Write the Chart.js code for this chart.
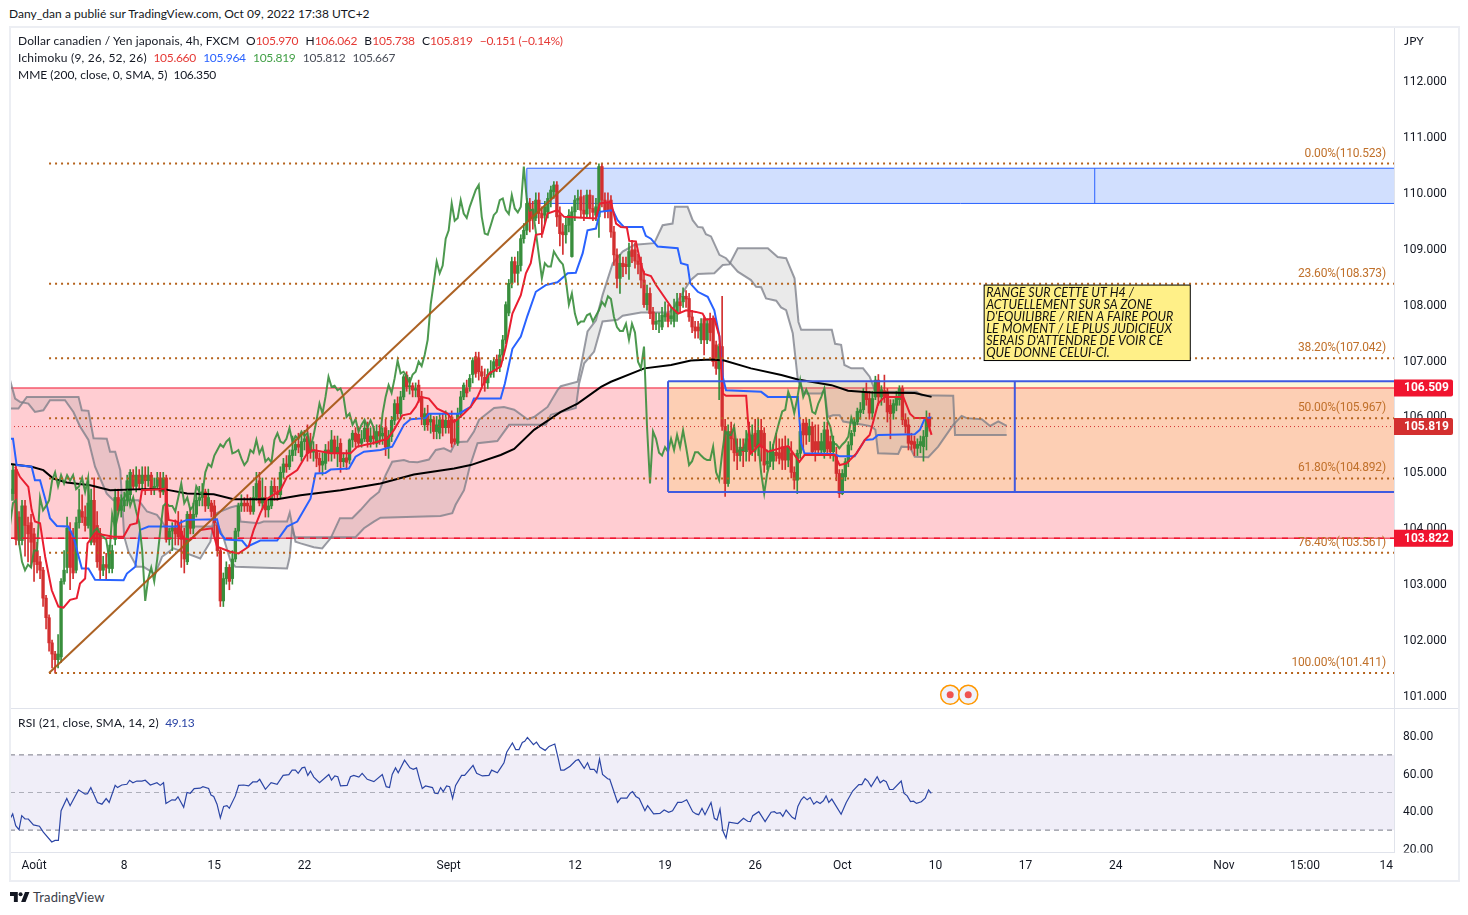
<!DOCTYPE html>
<html>
<head>
<meta charset="utf-8">
<title>CADJPY 4h</title>
<script src="https://cdn.jsdelivr.net/npm/chart.js@4/dist/chart.umd.js"></script>
<style>
  html, body { margin: 0; padding: 0; background: #fff; }
  body { width: 1468px; height: 915px; position: relative; overflow: hidden; font-family: Lato, Roboto, sans-serif; font-size: 12px; color: #131722; }
  canvas { position: absolute; }
  .frame { position: absolute; left: 9px; top: 26px; width: 1447px; height: 852px; border: 2px solid #eceef3; pointer-events: none; }
  .txt { position: absolute; white-space: nowrap; line-height: 14px; letter-spacing: 0.12px; }
  .txt span { margin-right: 4px; letter-spacing: -0.3px; }
  .up { color: #e53935; }
  .blue { color: #2962ff; }
  .green { color: #43a047; }
  .navy { color: #2b45a5; }
  .gray { color: #4a4e59; }
</style>
</head>
<body>
<canvas id="mainChart" width="1458" height="681" style="left:0;top:27px"></canvas>
<canvas id="rsiChart" width="1458" height="172" style="left:0;top:708px"></canvas>
<div class="frame"></div>
<div class="txt" style="left:9px;top:7px;letter-spacing:0.03px">Dany_dan a publié sur TradingView.com, Oct 09, 2022 17:38 UTC+2</div>
<div class="txt" style="left:18px;top:34px">Dollar canadien / Yen japonais, 4h, FXCM&nbsp; O<span class="up">105.970</span> H<span class="up">106.062</span> B<span class="up">105.738</span> C<span class="up">105.819</span> <span class="up">−0.151 (−0.14%)</span></div>
<div class="txt" style="left:18px;top:51px;letter-spacing:0.22px">Ichimoku (9, 26, 52, 26)&nbsp; <span class="up">105.660</span> <span class="blue">105.964</span> <span class="green">105.819</span> <span class="gray">105.812</span> <span class="gray">105.667</span></div>
<div class="txt" style="left:18px;top:68px;letter-spacing:0">MME (200, close, 0, SMA, 5)&nbsp; <span>106.350</span></div>
<div class="txt" style="left:18px;top:716px">RSI (21, close, SMA, 14, 2)&nbsp; <span class="navy">49.13</span></div>
<div class="txt" style="left:1404px;top:34px">JPY</div>
<svg style="position:absolute;left:10px;top:892px" width="20" height="10" viewBox="0 0 36 18"><path d="M14 18H7V7H0V0h14v18Zm14 0h-8L27 0h8l-7 18Z" fill="#131722"/><circle cx="19" cy="4" r="3.6" fill="#131722"/></svg>
<div class="txt" style="left:33px;top:890px;font-size:13px;color:#3a3e49">TradingView</div>
<script>
// candles, one entry per 4h bar
const barOpen = [
  104.5,104.62,105.05,104.2,103.78,104.4,104.05,104.1,103.9,103.6,
  103.4,103.25,102.75,102.4,101.95,101.75,101.65,101.7,103.05,103.3,
  103.95,103.8,103.25,104.1,104.3,104.2,104.05,103.75,104.5,104.05,
  103.9,103.25,103.35,103.28,103.28,103.8,104.55,104.32,104.4,104.5,
  104.6,104.95,104.75,104.95,104.8,104.95,104.85,104.95,104.7,104.75,
  104.9,104.65,104.9,103.8,103.95,104,104.1,103.95,103.8,103.4,
  104.25,104,104.25,104.5,104.55,104.65,104.4,104.45,104.4,104.05,
  103.6,102.7,103.1,103.3,103.1,103.45,103.95,104.4,104.45,104.45,
  104.4,104.3,104.55,104.85,104.45,104.55,104.33,104.4,104.75,104.65,
  104.6,105,105.15,105.1,105.3,105.4,105.5,105.28,105.55,105.64,
  105.55,105.36,105.37,105.25,105.13,105.16,105.4,105.34,105.58,105.34,
  105.52,105.19,105.26,105.22,105.58,105.7,105.68,105.52,105.6,105.79,
  105.55,105.65,105.52,105.73,105.65,105.8,105.45,105.64,105.93,106.23,
  106.05,106.35,106.74,106.53,106.55,106.47,106.56,106.35,105.85,106.05,
  105.9,105.94,105.73,105.7,105.94,105.8,105.93,105.99,105.6,105.52,
  106.05,106.35,106.5,106.53,106.75,107.07,107.05,106.8,106.7,106.6,
  106.75,106.8,107.02,106.9,107.1,107.37,107.85,108.38,108.77,108.56,
  108.7,109.18,109.33,109.81,109.7,109.55,109.87,109.63,109.6,109.66,
  109.9,110.02,110.14,109.6,109.3,109.25,109.42,108.86,109.66,109.87,
  109.93,109.69,109.62,109.96,109.72,109.6,109.57,110.47,109.87,109.8,
  109.87,109.3,108.89,108.47,108.74,108.72,108.68,108.98,108.98,108.78,
  108.74,108.44,108,108.2,107.87,107.65,107.7,107.6,107.78,107.84,
  107.75,107.7,107.84,108.05,108.05,108.15,108.11,107.78,107.6,107.6,
  107.37,107.75,107.37,107.75,107.75,107.28,106.85,107.25,105.82,104.8,
  105.73,105.6,105.4,105.3,105.45,105.37,105.6,105.4,105.7,105.45,
  105.75,105.7,105.15,105.2,105.2,105.36,105.35,105.46,105.46,105.22,
  105.34,105,104.86,105.34,105.88,105.88,105.67,105.82,105.55,105.55,
  105.4,105.37,105.76,105.55,105.37,105.31,104.98,104.62,104.92,105.19,
  105.49,105.73,105.9,106.07,106.12,106.42,106.32,106.06,106.35,106.65,
  106.35,106.46,106.44,106.2,106.06,106.2,106.3,106.5,105.94,105.85,
  105.56,105.55,105.43,105.48,105.46,105.64,105.97
];
const barHigh = [
  104.9,105.15,105.15,104.3,104.5,104.5,104.2,104.25,104,103.75,
  103.5,103.3,102.8,102.45,102,101.8,102.1,103.1,103.6,104.2,
  104.1,104,104.2,104.7,104.6,104.4,104.85,104.7,104.9,104.3,
  104,103.5,103.55,103.7,103.7,104.7,104.7,104.6,104.65,104.95,
  105.05,105.05,105.1,105.05,105.1,105.1,105.1,105,104.9,105,
  105,105,104.95,104,104.1,104.15,104.3,104.15,104,104.3,
  104.35,104.45,104.6,104.75,104.8,104.7,104.7,104.5,104.5,104.1,
  103.65,103.2,103.4,103.35,103.6,104,104.45,104.6,104.55,104.6,
  104.55,104.75,105,105,104.9,104.75,104.5,104.85,104.9,104.75,
  105.1,105.25,105.3,105.4,105.65,105.6,105.7,105.7,105.75,105.85,
  105.7,105.55,105.5,105.35,105.35,105.5,105.55,105.75,105.65,105.65,
  105.6,105.35,105.4,105.6,105.75,105.8,105.8,105.75,105.9,105.9,
  105.8,105.8,105.85,105.85,105.8,105.95,105.75,106,106.3,106.35,
  106.45,106.75,106.8,106.7,106.6,106.6,106.65,106.45,106.15,106.2,
  106.05,106,106,106.05,106.05,106.1,106,106.1,105.95,106.15,
  106.45,106.6,106.65,106.75,107.05,107.15,107.15,106.9,106.85,106.85,
  107,107.05,107.1,107.2,107.45,108.05,108.45,108.85,108.85,108.95,
  109.25,109.45,109.9,109.9,109.85,110,110,109.75,109.85,110,
  110.12,110.2,110.2,109.75,109.45,109.55,109.7,109.75,109.95,110.05,
  110.05,109.95,110.05,110.05,109.95,109.9,110.52,110.52,110,110,
  109.95,109.4,109,108.9,108.85,108.85,109.1,109.15,109.1,108.9,
  108.85,108.6,108.35,108.3,107.95,107.85,107.85,107.95,108.05,108,
  107.95,108.1,108.2,108.2,108.3,108.25,108.2,107.9,107.7,107.7,
  107.75,107.8,107.75,107.85,107.8,107.35,107.3,108.15,105.95,105.85,
  105.9,105.85,105.6,105.6,105.6,105.75,105.9,105.85,105.95,105.95,
  105.95,105.8,105.4,105.55,105.5,105.7,105.6,105.6,105.65,105.6,
  105.55,105.1,105.4,105.85,105.95,105.95,105.95,105.9,105.85,105.85,
  105.7,105.9,105.9,105.65,105.65,105.45,105.05,105.05,105.25,105.55,
  105.75,105.95,106.15,106.25,106.5,106.6,106.45,106.45,106.72,106.75,
  106.55,106.74,106.5,106.3,106.3,106.45,106.55,106.55,106.05,105.95,
  105.7,105.65,105.6,105.65,105.75,106.1,106.06
];
const barLow = [
  104.4,104.5,103.7,103.7,103.7,103.5,103.4,103.3,103.05,103.2,
  103.1,102.6,102.2,101.8,101.5,101.41,101.5,101.6,103,103.2,
  102.9,103.1,103.2,104,104.1,103.95,104,103.7,103.7,103.3,
  103.1,103.15,103.1,103.2,103.2,103.7,104.25,104.2,104.3,104.4,
  104.5,104.7,104.65,104.7,104.7,104.6,104.75,104.6,104.6,104.7,
  104.55,104.6,103.75,103.7,103.6,103.7,103.7,103.3,103.2,103.35,
  103.9,103.9,104.2,104.4,104.4,104.3,104.35,104.2,103.85,103.5,
  102.6,102.6,103,102.9,103,103.4,103.85,104.3,104.3,104.3,
  104.25,104.25,104.5,104.4,104.35,104.2,104.2,104.35,104.5,104.5,
  104.55,104.9,105,105.05,105.2,105.3,105.35,105.2,105.4,105.2,
  105.25,105.2,105.1,105,104.95,105.05,105.2,105.2,105.25,105.1,
  105,105.1,105.05,105.15,105.45,105.45,105.45,105.45,105.55,105.45,
  105.45,105.5,105.45,105.5,105.5,105.3,105.25,105.55,105.85,105.95,
  105.95,106.3,106.45,106.4,106.35,106.35,106.25,105.85,105.75,105.75,
  105.7,105.6,105.6,105.6,105.65,105.7,105.7,105.45,105.5,105.48,
  105.98,106.3,106.35,106.45,106.6,106.7,106.65,106.55,106.45,106.5,
  106.7,106.7,106.8,106.8,107,107.3,107.8,108.3,108.4,108.35,
  108.6,109.1,109.25,109.3,109.35,109.5,109.45,109.2,109.45,109.55,
  109.75,109.9,109.4,109.05,108.9,109.1,109.3,108.85,109.5,109.7,
  109.55,109.5,109.55,109.55,109.5,109.5,109.2,109.75,109.55,109.55,
  109.2,108.7,108.3,108.2,108.5,108.55,108.45,108.75,108.65,108.55,
  108.3,107.95,107.9,107.75,107.55,107.55,107.5,107.55,107.7,107.6,
  107.65,107.6,107.7,107.85,107.95,107.95,107.7,107.5,107.4,107.4,
  107.3,107.1,107.3,107.35,106.9,106.75,106.3,105.75,104.57,104.75,
  105.4,105.2,105.05,105.2,105.1,105.2,105.2,105.3,105.2,105.3,
  105.2,105,105.05,105.1,105.05,105.2,105.15,105.05,105.05,105.1,
  104.9,104.7,104.62,105.25,105.4,105.5,105.55,105.3,105.2,105.3,
  105.3,105.25,105.3,105.25,105.2,104.85,104.55,104.6,104.85,105.1,
  105.4,105.65,105.85,105.95,106.05,106.2,105.95,105.95,106.3,106.2,
  106.2,106.25,105.9,105.6,105.95,106.1,106.2,105.85,105.7,105.4,
  105.4,105.3,105.3,105.35,105.2,105.4,105.74
];
const barClose = [
  104.7,105.04,103.8,103.78,104.4,104.05,103.9,103.75,103.4,103.35,
  103.25,102.75,102.4,101.95,101.75,101.65,101.75,103.05,103.25,104,
  103.3,103.2,104.1,104.33,104.2,104.05,104.45,104.5,103.75,103.4,
  103.25,103.35,103.3,103.6,103.6,104.55,104.32,104.4,104.5,104.85,
  105,104.75,104.95,104.8,104.95,104.85,104.95,104.7,104.75,104.9,
  104.65,104.9,103.8,103.95,104,103.9,103.85,103.8,103.45,104.25,
  104,104.25,104.5,104.55,104.65,104.4,104.55,104.3,104.1,103.6,
  102.7,103.1,103.3,103.05,103.45,103.95,104.4,104.45,104.4,104.4,
  104.3,104.55,104.8,104.45,104.55,104.33,104.4,104.75,104.65,104.6,
  105,105.15,105.1,105.3,105.4,105.5,105.45,105.55,105.6,105.34,
  105.36,105.4,105.25,105.13,105.2,105.4,105.35,105.58,105.34,105.45,
  105.19,105.25,105.18,105.58,105.7,105.55,105.52,105.6,105.79,105.55,
  105.65,105.6,105.73,105.65,105.7,105.45,105.65,105.93,106.23,106.05,
  106.35,106.71,106.53,106.55,106.47,106.5,106.35,105.99,106.05,105.85,
  105.95,105.73,105.85,105.94,105.8,105.93,105.8,105.52,105.55,106.05,
  106.35,106.56,106.42,106.68,107,106.77,106.8,106.72,106.6,106.75,
  106.8,106.98,106.9,107.1,107.37,108,108.38,108.77,108.56,108.7,
  109.18,109.33,109.81,109.5,109.55,109.87,109.63,109.55,109.75,109.9,
  110.05,110.14,109.57,109.27,109.25,109.42,109.6,109.66,109.87,109.9,
  109.69,109.62,109.96,109.72,109.65,109.75,110.47,109.87,109.68,109.7,
  109.3,108.89,108.47,108.74,108.68,108.68,108.95,108.86,108.78,108.72,
  108.44,108,108.2,107.84,107.65,107.7,107.7,107.81,107.84,107.7,
  107.8,107.9,108.05,107.98,108.15,108.1,107.78,107.6,107.53,107.53,
  107.66,107.37,107.66,107.5,106.98,106.86,107.25,105.82,104.8,105.73,
  105.6,105.35,105.3,105.45,105.37,105.6,105.4,105.67,105.45,105.75,
  105.45,105.13,105.2,105.36,105.36,105.3,105.25,105.22,105.22,105.46,
  105,104.86,105.34,105.73,105.67,105.67,105.82,105.37,105.4,105.4,
  105.55,105.76,105.42,105.37,105.55,104.98,104.62,104.98,105.19,105.49,
  105.7,105.9,106.09,106.12,106.44,106.3,106.06,106.32,106.65,106.35,
  106.48,106.36,106.08,106.05,106.23,106.35,106.5,105.94,105.82,105.52,
  105.5,105.43,105.5,105.55,105.64,105.98,105.82
];

// Ichimoku lagging span, bar 0 onwards
const chikouSpan = [
  104.05,104.45,104.5,103.75,103.4,103.25,103.35,103.3,103.6,103.6,
  104.55,104.32,104.4,104.5,104.85,105,104.75,104.95,104.8,104.95,
  104.85,104.95,104.7,104.75,104.9,104.65,104.9,103.8,103.95,104,
  103.9,103.85,103.8,103.45,104.25,104,104.25,104.5,104.55,104.65,
  104.4,104.55,104.3,104.1,103.6,102.7,103.1,103.3,103.05,103.45,
  103.95,104.4,104.45,104.4,104.4,104.3,104.55,104.8,104.45,104.55,
  104.33,104.4,104.75,104.65,104.6,105,105.15,105.1,105.3,105.4,
  105.5,105.45,105.55,105.6,105.34,105.36,105.4,105.25,105.13,105.2,
  105.4,105.35,105.58,105.34,105.45,105.19,105.25,105.18,105.58,105.7,
  105.55,105.52,105.6,105.79,105.55,105.65,105.6,105.73,105.65,105.7,
  105.45,105.65,105.93,106.23,106.05,106.35,106.71,106.53,106.55,106.47,
  106.5,106.35,105.99,106.05,105.85,105.95,105.73,105.85,105.94,105.8,
  105.93,105.8,105.52,105.55,106.05,106.35,106.56,106.42,106.68,107,
  106.77,106.8,106.72,106.6,106.75,106.8,106.98,106.9,107.1,107.37,
  108,108.38,108.77,108.56,108.7,109.18,109.33,109.81,109.5,109.55,
  109.87,109.63,109.55,109.75,109.9,110.05,110.14,109.57,109.27,109.25,
  109.42,109.6,109.66,109.87,109.9,109.69,109.62,109.96,109.72,109.65,
  109.75,110.47,109.87,109.68,109.7,109.3,108.89,108.47,108.74,108.68,
  108.68,108.95,108.86,108.78,108.72,108.44,108,108.2,107.84,107.65,
  107.7,107.7,107.81,107.84,107.7,107.8,107.9,108.05,107.98,108.15,
  108.1,107.78,107.6,107.53,107.53,107.66,107.37,107.66,107.5,106.98,
  106.86,107.25,105.82,104.8,105.73,105.6,105.35,105.3,105.45,105.37,
  105.6,105.4,105.67,105.45,105.75,105.45,105.13,105.2,105.36,105.36,
  105.3,105.25,105.22,105.22,105.46,105,104.86,105.34,105.73,105.67,
  105.67,105.82,105.37,105.4,105.4,105.55,105.76,105.42,105.37,105.55,
  104.98,104.62,104.98,105.19,105.49,105.7,105.9,106.09,106.12,106.44,
  106.3,106.06,106.32,106.65,106.35,106.48,106.36,106.08,106.05,106.23,
  106.35,106.5,105.94,105.82,105.52,105.5,105.43,105.5,105.55,105.64,
  105.98,105.82
];

// the smoother lines are kept as turning points: bar number + value
const tenkanBars = [1.7,3.3,6.1,7.2,8.3,10,11.7,12.8,13.9,16.1,17.8,20,22.2,23.3,25,25.8,28.3,34.4,37.8,40,42.2,43.9,50,51.7,52.8,55.6,57.8,60,63.3,67.2,68.9,73.3,76.1,79.4,81.1,83.3,85.6,90,92.2,95.6,98.9,101,106.7,113.3,115.6,120.6,125.6,127.8,130.6,133.3,135,136.7,139.4,142.2,145.6,147.8,151,153.3,155.6,157.6,159.5,163.3,165,167.2,170,171.7,173.3,175,177.2,178.9,182.2,184.4,195,196.3,200,201.7,203.3,205.3,206.1,208.3,210,211.1,213.3,215,217.7,220,222.4,225,228.3,230.5,231.6,234.4,236.1,237.2,238.3,245,245.7,246.6,249.5,252.2,259,262.7,264.4,274.5,276.1,278.4,281.7,284.5,286.1,288.9,291.1,297.3,299.5,301.1,305,306.7];
const tenkanVals = [105.1,104.92,104.74,104.33,104.12,104.09,103.49,103.19,102.89,102.6,102.58,102.72,102.75,103.01,103.1,103.73,103.91,103.85,103.85,104.06,104.09,104.68,104.7,104.71,104.15,104.12,103.82,103.79,103.97,104,103.67,103.58,103.55,103.67,103.97,104.27,104.53,104.68,104.92,105.04,105.34,105.4,105.34,105.34,105.46,105.52,105.6,105.76,106.02,106.05,106.17,106.35,106.32,106.14,106.05,105.9,106.05,106.17,106.35,106.59,106.77,106.89,107.24,107.84,108.17,108.56,108.74,109.25,109.27,109.63,109.69,109.57,109.54,109.81,109.84,109.45,109.39,109.38,109.14,109.13,108.71,108.55,108.51,108.35,108.14,107.96,107.84,107.9,107.87,107.84,107.73,107.75,107.43,106.41,106.37,106.37,105.85,105.34,105.5,105.37,105.47,105.19,105.31,105.31,105.13,105.16,105.34,105.58,105.67,106.23,106.35,106.35,106.05,105.97,105.97,105.67];
const kijunBars = [0,1,2.2,7.2,8.3,10,11.7,13.3,15.6,19.4,21.1,23.9,26.1,28.3,37.8,38.9,41.7,43.3,46.1,55.6,56.7,58.9,68.9,70,71.7,77.2,78.9,83.3,88.9,92.2,95.6,100,101.7,105,106.7,112.8,115,117.8,123.3,127.2,131.1,133.3,138.3,139.4,149.4,153.3,154.4,163.3,164.7,167.2,170,172.2,175,178.3,182.2,185.6,188.3,190.6,192.2,195,196.3,200.6,202.2,204.3,210.5,211.6,213.3,215.5,222.2,223.3,225.5,226.4,228.9,232.2,234.4,236.1,237.2,238.3,250,252.2,262.2,263.3,264.4,273.9,276,281.1,282.8,284.5,287.2,288.9,301.1,302.8,304.5,306.7];
const kijunVals = [105.6,105.6,105.13,105.1,104.86,104.86,104.53,104.18,104.04,104.03,103.85,103.28,103.28,103.08,103.07,103.19,103.31,103.97,104.03,104.03,104.1,104.15,104.16,103.91,103.8,103.78,103.67,103.78,103.78,104.03,104.12,104.53,104.98,104.99,105.05,105.07,105.28,105.37,105.4,105.46,105.85,105.95,105.97,106.05,106.05,106.17,106.32,106.32,106.59,107.21,107.43,107.8,108.23,108.35,108.4,108.56,108.57,108.92,109.33,109.36,109.66,109.69,109.51,109.39,109.39,109.23,109.18,109.04,109.01,108.74,108.71,108.38,108.23,108.14,107.9,107.43,106.71,106.47,106.44,106.35,106.35,105.52,105.34,105.33,105.29,105.29,105.43,105.58,105.59,105.67,105.68,105.76,105.97,105.98];
const senkouABars = [0,1.7,3.3,6.1,8.3,11.1,13.3,18.3,21.1,23.3,26.1,28.3,32.2,34.4,42.8,45.6,48.9,50.6,52.2,55,67.2,68.7,73.3,76.1,76.7,82.8,84.4,92.2,93.1,95,96.7,101.1,103.9,106.7,109.8,113.9,116.7,120,122.8,125,127.2,131.1,132.8,135.6,139.4,141.7,144.4,146.7,148.3,152.2,154.4,156.1,161.1,164.4,167.8,172.2,174.4,178.9,182.2,183.3,188.9,190.6,192.2,195,197.2,200.6,203.9,207.8,214.4,217.2,220.5,221.3,225.5,227.2,228.9,230.5,231.6,233.3,236.1,238.3,242.2,246.6,248.3,250,251.6,255,256.6,258.3,260.5,262.2,264.4,270,271.1,272.2,273.9,276.1,277.3,283.9,286.7,288,288.9,295.6,296.7,299.5,301.1,305.6,308.9,313.9,316.7,318.4,323.4,326.2,328.9,331.7];
const senkouAVals = [106.65,106.32,106.26,106.23,106.08,106.11,106.29,106.29,106.08,105.82,105.58,105.1,104.62,104.5,104.5,104.3,104.24,104.12,103.97,104.03,104.03,104.27,104.37,104.41,104.12,104.09,104.12,104.12,104.28,103.76,103.73,103.66,103.64,103.82,104.18,104.18,104.33,104.53,104.65,104.95,105.19,105.22,105.19,105.18,105.23,105.4,105.43,105.37,105.54,105.55,105.73,105.94,106.15,106.17,106.12,105.95,105.99,106.17,106.47,106.54,106.62,107.07,107.52,107.72,108.17,108.74,108.95,109.07,109.1,109.42,109.45,109.75,109.75,109.51,109.39,109.38,109.26,109.22,108.89,108.83,108.59,108.44,108.32,108.31,108.11,108.07,107.95,107.9,107.49,106.65,106.41,106.41,106.47,105.99,106.02,106.02,105.91,105.85,105.82,105.76,105.34,105.33,105.46,105.45,105.28,105.27,105.46,105.85,106.01,105.97,105.95,105.83,105.91,105.83];
const senkouBBars = [0,2.8,5.6,22.8,23.9,26.1,27.8,32.2,33.3,35,36.7,38,39.4,42.2,44.4,48.3,50.6,54.4,63.3,66.7,67.6,68.9,71.1,73.3,75,92.2,93.1,93.9,94.8,115,117.8,121.1,123.3,143.3,147.2,148.3,151.1,153,155.6,162.2,166.1,178.3,180,188.3,189.4,191.1,194.4,197.2,202.2,203.9,210,219.4,221.1,225.5,226.6,228.9,234.4,237.2,239.4,242.2,252.2,255.5,258.3,261.1,262.4,263.3,273.5,274.6,276.6,277.7,280,283.9,286.1,287.8,290,301.7,303.4,313.9,314.5,331.7];
const senkouBVals = [106.14,106.14,106.35,106.35,106.11,106.1,105.61,105.6,105.37,105.37,105.04,103.85,103.58,103.31,103.31,103.18,103.49,103.64,103.46,103.76,104.03,104.09,103.82,103.43,103.31,103.28,103.49,104,103.84,103.84,104,104.12,104.19,104.22,104.27,104.42,104.68,105.1,105.52,105.56,105.85,105.85,106.03,106.15,106.59,106.95,107.16,107.7,107.73,107.8,107.86,107.86,107.96,108.35,108.44,108.55,108.56,108.71,108.72,109.01,109.01,108.85,108.83,108.47,107.69,107.55,107.55,107.3,107.28,106.92,106.86,106.86,106.71,106.47,106.44,106.44,106.38,106.37,105.67,105.67];
const emaBars = [0,7.2,11.1,14.4,18.9,26.7,33.3,44.4,51.1,58.9,67.8,74.4,82.2,88.9,96.7,110,123.3,134.4,147.8,153.3,163.3,167.8,174.4,183.3,188.9,196.7,200,211.1,220,226.6,233.3,237.7,246.6,256.7,262.2,273.4,278.9,286.7,301.1,306.7];
const emaVals = [105.15,105.1,105.04,104.89,104.82,104.77,104.68,104.7,104.7,104.62,104.61,104.52,104.52,104.52,104.59,104.68,104.8,104.96,105.07,105.13,105.31,105.42,105.76,106.08,106.23,106.53,106.62,106.86,106.92,107,107.02,107,106.86,106.74,106.66,106.56,106.46,106.43,106.42,106.35];
const rsiBars = [0,0.9,1.9,3,3.9,5,6.1,7.8,9.8,11.1,13.9,15,16.1,17,18.9,20,22.8,25,25.8,26.9,29.1,30.6,32,33,35,35.8,37.2,38.9,39.8,40.9,42.2,43.9,45,46.7,48.9,50,51.1,51.9,53.9,55,55.9,57.8,58.9,60,61.3,63.3,64.2,66.1,66.9,67.8,68.9,70,71.1,72.2,73,75,76.1,77.8,79.4,80.8,82.2,83.1,85,86.9,88.9,90.9,92.8,93.9,95,95.9,97.2,98.1,99.1,100,101.1,103,106.1,107,108.1,109.1,110,112.2,113.3,114.4,116.1,117.2,118.9,121.1,123.9,125.2,126.3,127.2,128.3,129.2,131.3,133.1,134.2,135.3,136.3,137.2,138.3,140.6,141.4,142.4,143.3,144.2,145.3,146.3,147.3,148.3,150.3,151.3,154.1,155.3,157.2,159.4,160.3,162.2,163.3,164.4,165.3,167.2,168.3,169.4,170.5,171.3,172.2,174.2,175.2,176.4,178.1,179.4,181.3,182.4,183.3,184.4,186.4,188.3,189.2,191.1,192.2,193.1,194.4,195.3,196.2,197.2,198.9,199.6,202.2,203.3,205.3,206.4,207.2,208.3,209.4,211.3,212.2,214.2,216.3,217.7,219.2,220.5,222.2,223.5,225.2,227.2,228.3,229.2,230.3,231.3,233.3,234.4,235.3,236.3,237.2,238.3,239.3,242.2,244.1,245.5,246.4,247.2,249.2,251.3,253.3,254.4,255.2,256.3,257.2,258.3,260.3,261.3,262.2,263.3,264.2,265.3,266.3,267.5,268.5,269.6,270.7,271.6,272.5,273.5,276.6,278.3,280.5,282.5,283.5,284.6,285.5,286.6,288.6,289.6,290.7,291.6,292.7,293.9,296.6,297.5,298.6,299.7,300.7,301.7,303.3,304.6,305.7,306.6];
const rsiVals = [35.9,38.6,32.4,30.3,37.7,35.9,35.9,32.8,32.1,28.9,23.7,24.5,24.5,40.3,46.8,43,51.4,49.1,49.4,52.6,44.7,43.8,46.8,44.7,53.8,52.6,54,54.4,56.5,55.2,56.1,56.1,56.5,54,55.2,53.8,55.2,44.2,46.1,45.9,47.7,42.1,50,49.6,52.1,52.3,53.1,52.1,48.6,47.9,43.8,36.5,42.6,43,41.6,48.2,53.8,54,53.5,55.6,55.6,57,51.7,55.2,54.4,59.1,59.5,61.9,61.9,60.2,63.1,63.5,59.1,61.4,58.2,55.2,59.6,56.6,58.8,58.4,53.5,53.8,58.4,59.1,58.2,60.2,57,55.8,59.6,53.1,52.6,59.6,63.1,60.5,67.2,63.1,62.3,63.1,57,52.1,53.5,52.6,49.6,49.4,52.6,50.5,53.5,53.1,46.8,53.8,59.1,59.1,64.4,60.2,58.8,59.1,61.9,60.5,63.1,65.8,71.4,76.3,72.8,72.8,76.6,77.2,79.3,75.4,76.8,74,72.4,74.5,75.8,68.4,61.9,61.9,64,67,67.5,62.8,65.8,62.3,62.3,60.5,67.9,59.6,57.3,57,44.7,47,47,49.6,50.5,47.9,46.8,40.3,43,38.6,38.9,40.7,39.5,40.3,44.7,44.7,46.1,39.8,38.6,38.2,41.6,38.2,44.7,36.3,35.4,41.2,29.8,25.8,34.2,33.5,36.3,34.7,34.5,37.7,39.8,34.5,39.5,39.8,38.9,39.3,37.3,40.7,36.8,35.9,42.6,46.1,47.7,46.1,47.3,43.8,45.2,44.2,45.6,48.2,44.7,46.5,38.4,44.7,50.9,54.2,54.2,57.3,56.1,53.1,58.4,55.2,56.5,55.8,51.7,51.6,56.1,49.6,48.2,45.2,45.4,44.2,45.1,47,51.4,49.5];

// axis ticks
const priceTicks = [101,102,103,104,105,106,107,108,109,110,111,112];
const rsiTicks = [20,40,60,80];
const timeTickBars = [8,38,68,98,146,188,218,248,277,308,338,368,404,431,458];
const timeTickLabels = ['Août','8','15','22','Sept','12','19','26','Oct','10','17','24','Nov','15:00','14'];

// drawings on the price pane
const fibLevels = [110.523,108.373,107.042,105.967,104.892,103.561,101.411];
const fibLabels = ['0.00%(110.523)','23.60%(108.373)','38.20%(107.042)','50.00%(105.967)','61.80%(104.892)','76.40%(103.561)','100.00%(101.411)'];
const trendBars = [13,193.3];
const trendVals = [101.41,110.55];
const priceLabels = [106.509,105.819,103.822];
const noteLines = ["RANGE SUR CETTE UT H4 /","ACTUELLEMENT SUR SA ZONE","D'EQUILIBRE / RIEN A FAIRE POUR","LE MOMENT / LE PLUS JUDICIEUX","SERAIS D'ATTENDRE DE VOIR CE","QUE DONNE CELUI-CI."];

const xMin = 0, xMax = 460.6;
const lastPrice = 105.819, zoneTop = 106.509, zoneBottom = 103.822;
const upColor = '#388e3c', downColor = '#d32f2f';
const tickFont = { family: 'Roboto', size: 12 };

function zipLine(bars, vals) {
  return vals.map((v, i) => ({ x: bars[i], y: v }));
}

function lineSet(data, color, order, extra) {
  return Object.assign({ type: 'line', data: data, borderColor: color, borderWidth: 2, pointRadius: 0, tension: 0, fill: false, order: order }, extra || {});
}

function levelLine(level, color, order, dash, width) {
  return lineSet([{ x: xMin, y: level }, { x: xMax, y: level }], color, order, { borderDash: dash, borderWidth: width });
}

const barColors = barClose.map((c, i) => c >= barOpen[i] ? upColor : downColor);

const cloudLine = 'rgba(120,123,134,0.75)';
const cloudFill = 'rgba(150,150,150,0.2)';

const mainDatasets = [
  lineSet(zipLine(senkouABars, senkouAVals), cloudLine, 40, { fill: '+1', backgroundColor: cloudFill }),
  lineSet(zipLine(senkouBBars, senkouBVals), cloudLine, 39),
  { type: 'bar', data: barHigh.map((h, i) => ({ x: i, y: [barLow[i], h] })), backgroundColor: barColors, barThickness: 1, grouped: false, order: 30 },
  { type: 'bar', data: barOpen.map((o, i) => ({ x: i, y: [o, barClose[i]] })), backgroundColor: barColors, barThickness: 2.7, minBarLength: 1, grouped: false, order: 29 },
  lineSet(zipLine(emaBars, emaVals), '#000000', 20),
  lineSet(zipLine(kijunBars, kijunVals), '#2962ff', 15),
  lineSet(chikouSpan.map((v, i) => ({ x: i, y: v })), 'rgba(56,142,60,0.9)', 14),
  lineSet(zipLine(tenkanBars, tenkanVals), '#e91e30', 13),
  lineSet(zipLine(trendBars, trendVals), 'rgba(168,90,24,0.95)', 12),
  levelLine(zoneTop, '#f0142f', 50, [], 1),
  levelLine(zoneBottom, '#f0142f', 50, [], 1),
  levelLine(zoneBottom, '#f0142f', 11, [6, 6], 1.5),
  levelLine(lastPrice, '#d32f2f', 11, [1, 3], 1)
];
fibLevels.forEach(level => {
  mainDatasets.push(lineSet([{ x: 13, y: level }, { x: xMax, y: level }], '#b5621b', 10, { borderDash: [2, 4] }));
});

function rectAt(ctx, x, y, x0, x1, p0, p1, fill) {
  ctx.fillStyle = fill;
  ctx.fillRect(x.getPixelForValue(x0), y.getPixelForValue(p0), x.getPixelForValue(x1) - x.getPixelForValue(x0), y.getPixelForValue(p1) - y.getPixelForValue(p0));
}

function strokeSeg(ctx, x0, y0, x1, y1, color, width) {
  ctx.strokeStyle = color;
  ctx.lineWidth = width;
  ctx.beginPath();
  ctx.moveTo(x0, y0);
  ctx.lineTo(x1, y1);
  ctx.stroke();
}

const zonesPlugin = {
  id: 'zones',
  beforeDatasetsDraw(chart) {
    const ctx = chart.ctx, x = chart.scales.x, y = chart.scales.y;
    ctx.save();
    // pink range
    rectAt(ctx, x, y, xMin, xMax, zoneTop, zoneBottom, '#ffcdd2');
    // blue supply zone
    rectAt(ctx, x, y, 172, xMax, 110.44, 109.81, '#d1dffe');
    strokeSeg(ctx, x.getPixelForValue(172), y.getPixelForValue(110.44), x.right, y.getPixelForValue(110.44), '#2962ff', 1);
    strokeSeg(ctx, x.getPixelForValue(172), y.getPixelForValue(109.81), x.right, y.getPixelForValue(109.81), '#2962ff', 1);
    strokeSeg(ctx, x.getPixelForValue(172), y.getPixelForValue(110.44), x.getPixelForValue(172), y.getPixelForValue(109.81), '#2962ff', 1);
    strokeSeg(ctx, x.getPixelForValue(361), y.getPixelForValue(110.44), x.getPixelForValue(361), y.getPixelForValue(109.81), '#2962ff', 1);
    // range box over the pink zone
    rectAt(ctx, x, y, 219, xMax, 106.63, 104.65, 'rgba(245,215,60,0.2)');
    ctx.restore();
  },
  afterDatasetsDraw(chart) {
    const ctx = chart.ctx, x = chart.scales.x, y = chart.scales.y;
    ctx.save();
    const left = x.getPixelForValue(219), mid = x.getPixelForValue(334.4);
    const top = y.getPixelForValue(106.63), bottom = y.getPixelForValue(104.65);
    const blue = '#3f5ae0';
    strokeSeg(ctx, left, top, x.right, top, blue, 2);
    strokeSeg(ctx, left, bottom, x.right, bottom, blue, 2);
    strokeSeg(ctx, left, top, left, bottom, blue, 2);
    strokeSeg(ctx, mid, top, mid, bottom, blue, 2);

    // fib labels
    ctx.font = '12px Roboto';
    ctx.letterSpacing = '-0.2px';
    ctx.fillStyle = '#c0702a';
    ctx.textAlign = 'right';
    ctx.textBaseline = 'middle';
    fibLevels.forEach((level, i) => {
      ctx.fillText(fibLabels[i], x.getPixelForValue(457.9), y.getPixelForValue(level) - 10);
    });
    ctx.letterSpacing = '0px';

    // note box
    const bx = x.getPixelForValue(324.2), by = y.getPixelForValue(108.35);
    const bw = x.getPixelForValue(392.8) - bx, bh = y.getPixelForValue(107.0) - by;
    ctx.fillStyle = '#fff088';
    ctx.fillRect(bx, by, bw, bh);
    ctx.strokeStyle = '#000';
    ctx.lineWidth = 1;
    ctx.strokeRect(bx, by, bw, bh);
    ctx.font = 'italic 12.5px Lato';
    ctx.fillStyle = '#111';
    ctx.textAlign = 'left';
    noteLines.forEach((t, i) => ctx.fillText(t, bx + 2, by + 8 + i * 12));

    // session markers
    [312.9, 318.9].forEach(bar => {
      const cx = x.getPixelForValue(bar), cy = y.getPixelForValue(101.02);
      ctx.beginPath();
      ctx.arc(cx, cy, 9.5, 0, Math.PI * 2);
      ctx.fillStyle = '#f0f3fa';
      ctx.fill();
      ctx.strokeStyle = '#ff9800';
      ctx.lineWidth = 1.5;
      ctx.stroke();
      ctx.beginPath();
      ctx.arc(cx, cy, 3.5, 0, Math.PI * 2);
      ctx.fillStyle = '#ef5350';
      ctx.fill();
    });
    ctx.restore();
  },
  afterDraw(chart) {
    const ctx = chart.ctx, x = chart.scales.x, y = chart.scales.y;
    ctx.save();
    ctx.font = 'bold 12px Roboto';
    ctx.textAlign = 'left';
    ctx.textBaseline = 'middle';
    priceLabels.forEach(p => {
      const py = y.getPixelForValue(p);
      ctx.fillStyle = p === lastPrice ? '#d32f2f' : '#f0142f';
      ctx.beginPath();
      ctx.roundRect(x.right, py - 8.5, 59, 17, [0, 2, 2, 0]);
      ctx.fill();
      ctx.fillStyle = '#fff';
      ctx.fillText(p.toFixed(3), x.right + 10, py + 0.5);
    });
    ctx.restore();
  }
};

new Chart(document.getElementById('mainChart'), {
  type: 'bar',
  data: { datasets: mainDatasets },
  plugins: [zonesPlugin],
  options: {
    responsive: false,
    animation: false,
    devicePixelRatio: 1,
    events: [],
    layout: { padding: { left: 10, right: 0, top: 0, bottom: 0 }, autoPadding: false },
    plugins: { legend: { display: false }, tooltip: { enabled: false } },
    scales: {
      x: { type: 'linear', min: xMin, max: xMax, offset: false, display: false },
      y: {
        position: 'right', min: 100.785, max: 112.966,
        afterBuildTicks(scale) { scale.ticks = priceTicks.map(v => ({ value: v })); },
        afterFit(scale) { scale.width = 64; scale.paddingTop = 0; scale.paddingBottom = 0; },
        grid: { display: false, drawTicks: false },
        border: { color: '#e0e3eb' },
        ticks: { font: tickFont, color: '#131722', padding: 9, labelOffset: 1, callback: v => v.toFixed(3) }
      }
    }
  }
});

const rsiFramePlugin = {
  id: 'rsiFrame',
  beforeDatasetsDraw(chart) {
    const ctx = chart.ctx, x = chart.scales.x, y = chart.scales.y;
    ctx.save();
    rectAt(ctx, x, y, xMin, xMax, 70, 30, '#f0eef8');
    ctx.restore();
  },
  afterDraw(chart) {
    const ctx = chart.ctx, a = chart.chartArea;
    ctx.save();
    // the lowest axis label is cut at the pane edge
    ctx.fillStyle = '#fff';
    ctx.fillRect(a.right + 1, a.bottom, 70, 30);
    strokeSeg(ctx, 10, 0.5, a.right + 64, 0.5, '#e0e3eb', 1);
    strokeSeg(ctx, 10, a.bottom, a.right, a.bottom, '#e0e3eb', 1);
    ctx.restore();
  }
};

new Chart(document.getElementById('rsiChart'), {
  type: 'line',
  data: {
    datasets: [
      { data: [{ x: xMin, y: 70 }, { x: xMax, y: 70 }], borderColor: '#787b86', borderWidth: 1, borderDash: [5, 4], pointRadius: 0, order: 5 },
      { data: [{ x: xMin, y: 50 }, { x: xMax, y: 50 }], borderColor: 'rgba(120,123,134,0.55)', borderWidth: 1, borderDash: [5, 4], pointRadius: 0, order: 5 },
      { data: [{ x: xMin, y: 30 }, { x: xMax, y: 30 }], borderColor: '#787b86', borderWidth: 1, borderDash: [5, 4], pointRadius: 0, order: 5 },
      { data: zipLine(rsiBars, rsiVals), borderColor: '#2b45a5', borderWidth: 1.2, pointRadius: 0, tension: 0, order: 1 }
    ]
  },
  plugins: [rsiFramePlugin],
  options: {
    responsive: false,
    animation: false,
    devicePixelRatio: 1,
    events: [],
    layout: { padding: { left: 10, right: 0, top: 1, bottom: 0 }, autoPadding: false },
    plugins: { legend: { display: false }, tooltip: { enabled: false } },
    scales: {
      x: {
        type: 'linear', min: xMin, max: xMax, offset: false,
        afterBuildTicks(scale) { scale.ticks = timeTickBars.map(v => ({ value: v })); },
        afterFit(scale) { scale.height = 27.5; scale.paddingLeft = 0; scale.paddingRight = 0; },
        grid: { display: false, drawTicks: false },
        border: { display: false },
        ticks: {
          font: tickFont, color: '#131722', padding: 6, autoSkip: false, maxRotation: 0,
          callback: v => timeTickLabels[timeTickBars.indexOf(v)]
        }
      },
      y: {
        position: 'right', min: 18.1, max: 94.4,
        afterBuildTicks(scale) { scale.ticks = rsiTicks.map(v => ({ value: v })); },
        afterFit(scale) { scale.width = 64; scale.paddingTop = 0; scale.paddingBottom = 0; },
        grid: { display: false, drawTicks: false },
        border: { color: '#e0e3eb' },
        ticks: { font: tickFont, color: '#131722', padding: 9, labelOffset: 1, callback: v => v.toFixed(2) }
      }
    }
  }
});
</script>
</body>
</html>
